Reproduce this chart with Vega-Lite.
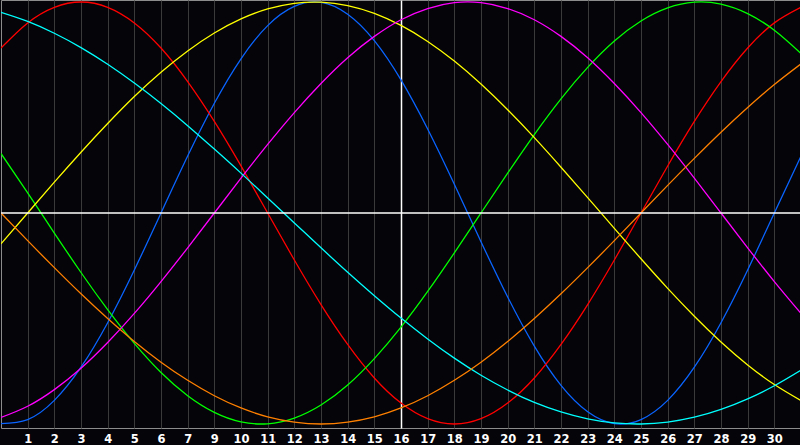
{
  "$schema": "https://vega.github.io/schema/vega-lite/v6.json",
  "width": 800,
  "height": 428,
  "autosize": {"type": "pad"},
  "padding": 0,
  "background": "#050408",
  "config": {
    "view": {"stroke": "#8c8c8c", "strokeWidth": 1, "fill": "#050408"}
  },
  "datasets": {
    "curves": [
      {"p": 0, "blue": -0.998, "red": 0.782, "green": 0.282, "yellow": -0.146, "magenta": -0.969, "cyan": 0.951, "orange": 0},
      {"p": 1, "blue": -0.979, "red": 0.901, "green": 0.095, "yellow": 0, "magenta": -0.916, "cyan": 0.908, "orange": -0.131},
      {"p": 2, "blue": -0.888, "red": 0.975, "green": -0.095, "yellow": 0.146, "magenta": -0.837, "cyan": 0.852, "orange": -0.259},
      {"p": 3, "blue": -0.731, "red": 1, "green": -0.282, "yellow": 0.288, "magenta": -0.736, "cyan": 0.784, "orange": -0.383},
      {"p": 4, "blue": -0.52, "red": 0.975, "green": -0.458, "yellow": 0.424, "magenta": -0.614, "cyan": 0.705, "orange": -0.5},
      {"p": 5, "blue": -0.27, "red": 0.901, "green": -0.618, "yellow": 0.552, "magenta": -0.476, "cyan": 0.616, "orange": -0.609},
      {"p": 6, "blue": 0, "red": 0.782, "green": -0.756, "yellow": 0.667, "magenta": -0.325, "cyan": 0.519, "orange": -0.707},
      {"p": 7, "blue": 0.27, "red": 0.623, "green": -0.866, "yellow": 0.768, "magenta": -0.165, "cyan": 0.414, "orange": -0.793},
      {"p": 8, "blue": 0.52, "red": 0.434, "green": -0.945, "yellow": 0.853, "magenta": 0, "cyan": 0.303, "orange": -0.866},
      {"p": 9, "blue": 0.731, "red": 0.223, "green": -0.99, "yellow": 0.92, "magenta": 0.165, "cyan": 0.189, "orange": -0.924},
      {"p": 10, "blue": 0.888, "red": 0, "green": -0.999, "yellow": 0.967, "magenta": 0.325, "cyan": 0.071, "orange": -0.966},
      {"p": 11, "blue": 0.979, "red": -0.223, "green": -0.972, "yellow": 0.994, "magenta": 0.476, "cyan": -0.047, "orange": -0.991},
      {"p": 12, "blue": 0.998, "red": -0.434, "green": -0.91, "yellow": 0.999, "magenta": 0.614, "cyan": -0.165, "orange": -1},
      {"p": 13, "blue": 0.942, "red": -0.623, "green": -0.815, "yellow": 0.983, "magenta": 0.736, "cyan": -0.281, "orange": -0.991},
      {"p": 14, "blue": 0.817, "red": -0.782, "green": -0.69, "yellow": 0.946, "magenta": 0.837, "cyan": -0.392, "orange": -0.966},
      {"p": 15, "blue": 0.631, "red": -0.901, "green": -0.541, "yellow": 0.889, "magenta": 0.916, "cyan": -0.498, "orange": -0.924},
      {"p": 16, "blue": 0.398, "red": -0.975, "green": -0.372, "yellow": 0.813, "magenta": 0.969, "cyan": -0.597, "orange": -0.866},
      {"p": 17, "blue": 0.136, "red": -1, "green": -0.189, "yellow": 0.72, "magenta": 0.997, "cyan": -0.688, "orange": -0.793},
      {"p": 18, "blue": -0.136, "red": -0.975, "green": 0, "yellow": 0.611, "magenta": 0.997, "cyan": -0.769, "orange": -0.707},
      {"p": 19, "blue": -0.398, "red": -0.901, "green": 0.189, "yellow": 0.489, "magenta": 0.969, "cyan": -0.839, "orange": -0.609},
      {"p": 20, "blue": -0.631, "red": -0.782, "green": 0.372, "yellow": 0.357, "magenta": 0.916, "cyan": -0.898, "orange": -0.5},
      {"p": 21, "blue": -0.817, "red": -0.623, "green": 0.541, "yellow": 0.217, "magenta": 0.837, "cyan": -0.943, "orange": -0.383},
      {"p": 22, "blue": -0.942, "red": -0.434, "green": 0.69, "yellow": 0.073, "magenta": 0.736, "cyan": -0.976, "orange": -0.259},
      {"p": 23, "blue": -0.998, "red": -0.223, "green": 0.815, "yellow": -0.073, "magenta": 0.614, "cyan": -0.995, "orange": -0.131},
      {"p": 24, "blue": -0.979, "red": 0, "green": 0.91, "yellow": -0.217, "magenta": 0.476, "cyan": -1, "orange": 0},
      {"p": 25, "blue": -0.888, "red": 0.223, "green": 0.972, "yellow": -0.357, "magenta": 0.325, "cyan": -0.991, "orange": 0.131},
      {"p": 26, "blue": -0.731, "red": 0.434, "green": 0.999, "yellow": -0.489, "magenta": 0.165, "cyan": -0.968, "orange": 0.259},
      {"p": 27, "blue": -0.52, "red": 0.623, "green": 0.99, "yellow": -0.611, "magenta": 0, "cyan": -0.931, "orange": 0.383},
      {"p": 28, "blue": -0.27, "red": 0.782, "green": 0.945, "yellow": -0.72, "magenta": -0.165, "cyan": -0.881, "orange": 0.5},
      {"p": 29, "blue": 0, "red": 0.901, "green": 0.866, "yellow": -0.813, "magenta": -0.325, "cyan": -0.819, "orange": 0.609},
      {"p": 30, "blue": 0.27, "red": 0.975, "green": 0.756, "yellow": -0.889, "magenta": -0.476, "cyan": -0.745, "orange": 0.707}
    ],
    "hline": [{"v": 0}]
  },
  "layer": [
    {
      "data": {"name": "curves"},
      "transform": [
        {"fold": ["blue", "red", "green", "yellow", "magenta", "cyan", "orange"], "as": ["series", "v"]}
      ],
      "mark": {"type": "line", "interpolate": "natural", "strokeWidth": 1.3, "clip": true},
      "encoding": {
        "x": {
          "field": "p",
          "type": "quantitative",
          "scale": {"domain": [0, 30], "nice": false, "zero": false},
          "axis": {
            "title": null,
            "values": [1, 2, 3, 4, 5, 6, 7, 8, 9, 10, 11, 12, 13, 14, 15, 16, 17, 18, 19, 20, 21, 22, 23, 24, 25, 26, 27, 28, 29],
            "labelExpr": "datum.value <= 7 ? datum.label : '' + (datum.value + 1)",
            "labelOverlap": false,
            "labelFlush": false,
            "labelColor": "#ffffff",
            "labelFont": "DejaVu Sans",
            "labelFontWeight": "bold",
            "labelFontSize": 11.5,
            "labelPadding": 5,
            "ticks": false,
            "domain": false,
            "grid": true,
            "gridColor": {"condition": {"test": "datum.value === 15", "value": "#ffffff"}, "value": "#3a3a3a"},
            "gridWidth": {"condition": {"test": "datum.value === 15", "value": 1.5}, "value": 1},
            "gridOpacity": 1
          }
        },
        "y": {
          "field": "v",
          "type": "quantitative",
          "scale": {"domain": [-1.019, 1.0095], "nice": false, "zero": false},
          "axis": null
        },
        "color": {
          "field": "series",
          "type": "nominal",
          "scale": {
            "domain": ["blue", "red", "green", "yellow", "magenta", "cyan", "orange"],
            "range": ["#0a64ff", "#ff0000", "#00ff00", "#ffff00", "#ff00ff", "#00ffff", "#ff8000"]
          },
          "legend": null
        }
      }
    },
    {
      "data": {"name": "hline"},
      "mark": {"type": "rule", "color": "#ffffff", "strokeWidth": 1.5},
      "encoding": {"y": {"field": "v", "type": "quantitative", "axis": null}}
    }
  ]
}
